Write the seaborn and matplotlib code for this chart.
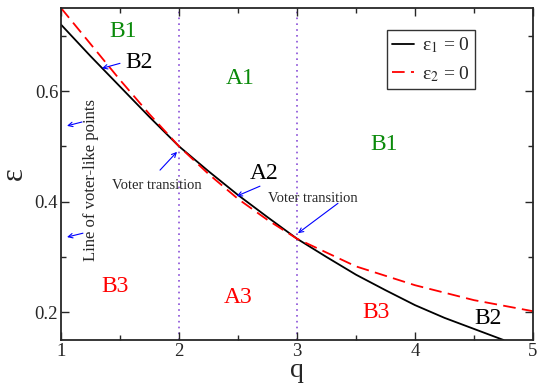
import numpy as np
import pandas as pd
import matplotlib
matplotlib.use("Agg")
import matplotlib.pyplot as plt
import seaborn as sns

# curves
q_eps1 = [1.0, 1.25, 1.5, 1.75, 2.0, 2.25, 2.5, 2.75, 3.0, 3.25, 3.5, 3.75, 4.0, 4.25, 4.5, 4.75]
eps1 = [0.72, 0.663, 0.608, 0.553, 0.5, 0.455, 0.412, 0.372, 0.333, 0.30, 0.268, 0.24, 0.213, 0.19, 0.17, 0.15]

q_eps2 = [1.0, 1.25, 1.5, 1.75, 2.0, 2.25, 2.5, 2.75, 3.0, 3.5, 4.0, 4.5, 5.0]
eps2 = [0.75, 0.685, 0.62, 0.558, 0.5, 0.45, 0.405, 0.367, 0.333, 0.283, 0.249, 0.222, 0.202]

transition_q = [2, 3]

# region labels: text, q, eps, colour
regions = [
    ("B1", 1.53, 0.708, "#0a8a0a"),
    ("B2", 1.66, 0.652, "black"),
    ("A1", 2.52, 0.623, "#0a8a0a"),
    ("B1", 3.74, 0.504, "#0a8a0a"),
    ("A2", 2.72, 0.45, "black"),
    ("B3", 1.46, 0.247, "red"),
    ("A3", 2.5, 0.226, "red"),
    ("B3", 3.67, 0.200, "red"),
    ("B2", 4.62, 0.188, "black"),
]

# arrows: tail (q, eps) -> tip (q, eps)
arrows = [
    ((1.50, 0.650), (1.347, 0.641)),
    ((2.686, 0.428), (2.489, 0.410)),
    ((1.839, 0.457), (1.983, 0.490)),
    ((3.347, 0.397), (3.008, 0.343)),
    ((1.178, 0.544), (1.051, 0.537)),
    ((1.186, 0.343), (1.051, 0.336)),
]

sns.set_style("ticks")
plt.rcParams['font.family'] = ['Liberation Serif', 'DejaVu Serif']
plt.rcParams['mathtext.fontset'] = 'stix'

fig = plt.figure(figsize=(5.38, 3.83), dpi=100)
ax = fig.add_axes([0.1134, 0.1123, 0.8773, 0.8668])

d1 = pd.DataFrame({'q': q_eps1, 'eps': eps1})
d2 = pd.DataFrame({'q': q_eps2, 'eps': eps2})
sns.lineplot(data=d1, x='q', y='eps', ax=ax, color='black', lw=1.3,
             label='ε$_1$ = 0')
sns.lineplot(data=d2, x='q', y='eps', ax=ax, color='red', lw=1.3,
             label='ε$_2$ = 0', dashes=False, linestyle=(0, (7, 3.5)))

for qt in transition_q:
    ax.axvline(qt, color='#8a4fd8', lw=1.2, ls=(0, (1, 2.5)), zorder=0)

for txt, x, y, c in regions:
    ax.text(x, y, txt, color=c, fontsize=17, ha='center', va='center')

ax.text(1.814, 0.43, "Voter transition", fontsize=10.5, ha='center', va='center')
ax.text(3.136, 0.406, "Voter transition", fontsize=10.5, ha='center', va='center')
ax.text(1.254, 0.439, "Line of voter-like points", fontsize=12, rotation=90,
        ha='center', va='center')

for tail, tip in arrows:
    ax.annotate("", xy=tip, xytext=tail,
                arrowprops=dict(arrowstyle='->', color='blue', lw=0.8,
                                mutation_scale=8, shrinkA=0, shrinkB=0))

ax.set_xlim(1, 5)
ax.set_ylim(0.15, 0.75)
ax.set_xticks([1, 2, 3, 4, 5])
ax.set_xticks([1.5, 2.5, 3.5, 4.5], minor=True)
ax.set_yticks([0.2, 0.4, 0.6])
ax.set_yticks([0.3, 0.5, 0.7], minor=True)
ax.set_xticklabels(['1', '2', '3', '4', '5'])
ax.set_yticklabels(['0.2', '0.4', '0.6'])
ax.tick_params(which='both', direction='in', top=True, right=True, labelsize=13.5,
               width=1.0, pad=2)
ax.tick_params(which='major', length=6)
ax.tick_params(which='minor', length=3.5)
for s in ax.spines.values():
    s.set_linewidth(1.3)

ax.set_xlabel('q', fontsize=20, labelpad=-1)
ax.set_ylabel('ε', fontsize=22, labelpad=4)

leg = ax.legend(loc='upper right', bbox_to_anchor=(0.878, 0.935), fontsize=14,
                frameon=True, fancybox=False, handlelength=1.1, handletextpad=0.4,
                borderpad=0.3, labelspacing=0.45, borderaxespad=0)
leg.get_frame().set_edgecolor('black')
leg.get_frame().set_linewidth(1.0)

fig.savefig('out.png', dpi=100)
